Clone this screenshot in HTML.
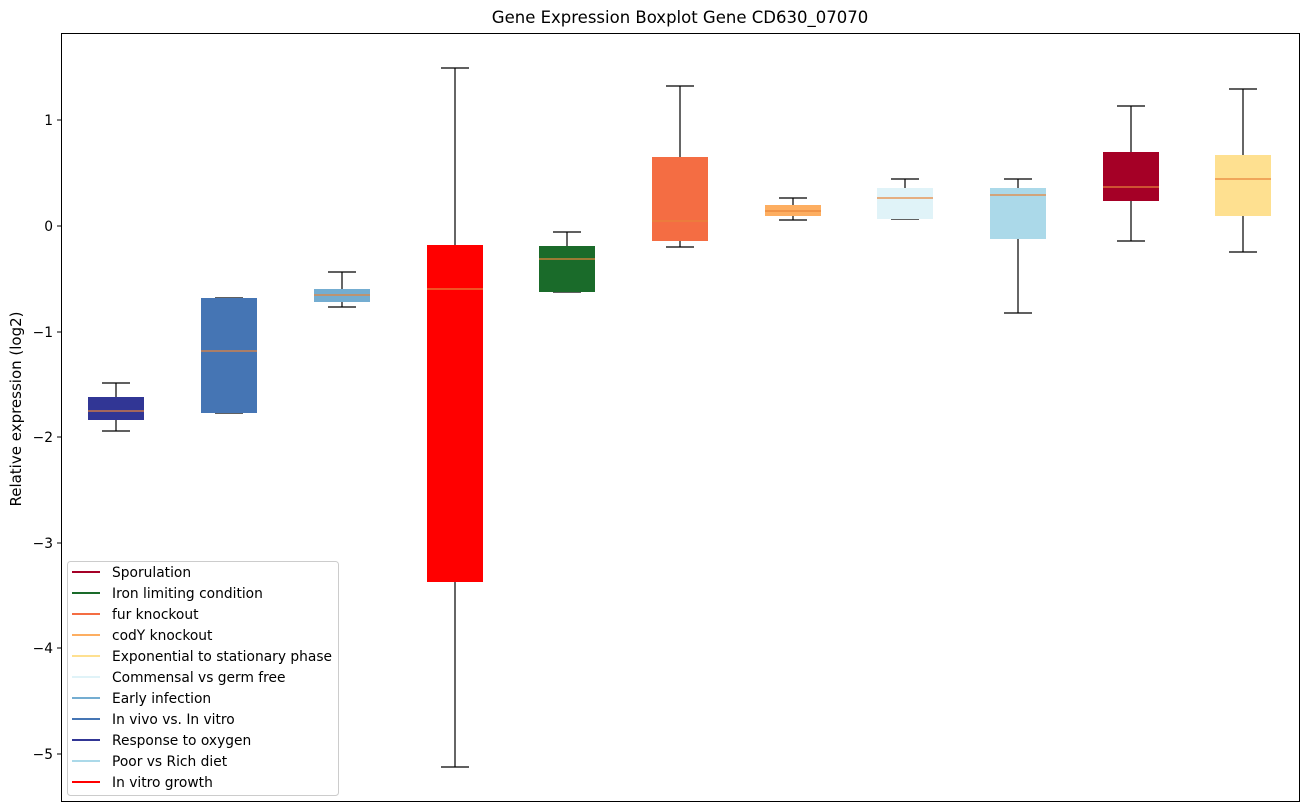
<!DOCTYPE html>
<html><head><meta charset="utf-8"><style>body{margin:0;background:#fff}svg{display:block;font-family:"DejaVu Sans","Liberation Sans",sans-serif}</style></head><body>
<svg width="1309" height="812" xmlns="http://www.w3.org/2000/svg">
<rect width="1309" height="812" fill="#fff"/>
<text x="680" y="23" font-size="16.5" text-anchor="middle">Gene Expression Boxplot Gene CD630_07070</text>
<text transform="translate(21,409) rotate(-90)" font-size="15" text-anchor="middle">Relative expression (log2)</text>
<g font-size="13.8" text-anchor="end">
<line x1="57" x2="61" y1="120" y2="120" stroke="#000"/><text x="53" y="125">1</text>
<line x1="57" x2="61" y1="226" y2="226" stroke="#000"/><text x="53" y="231">0</text>
<line x1="57" x2="61" y1="332" y2="332" stroke="#000"/><text x="53" y="337">−1</text>
<line x1="57" x2="61" y1="437" y2="437" stroke="#000"/><text x="53" y="442">−2</text>
<line x1="57" x2="61" y1="543" y2="543" stroke="#000"/><text x="53" y="548">−3</text>
<line x1="57" x2="61" y1="648" y2="648" stroke="#000"/><text x="53" y="653">−4</text>
<line x1="57" x2="61" y1="754" y2="754" stroke="#000"/><text x="53" y="759">−5</text>
</g>
<g stroke="#000" stroke-width="1.2">
<line x1="116" x2="116" y1="383" y2="397"/><line x1="116" x2="116" y1="420" y2="431"/><line x1="102" x2="130" y1="383" y2="383"/><line x1="102" x2="130" y1="431" y2="431"/>
<line x1="215" x2="243" y1="298" y2="298"/><line x1="215" x2="243" y1="413" y2="413"/>
<line x1="342" x2="342" y1="272" y2="289"/><line x1="342" x2="342" y1="302" y2="307"/><line x1="328" x2="356" y1="272" y2="272"/><line x1="328" x2="356" y1="307" y2="307"/>
<line x1="455" x2="455" y1="68" y2="245"/><line x1="455" x2="455" y1="582" y2="767"/><line x1="441" x2="469" y1="68" y2="68"/><line x1="441" x2="469" y1="767" y2="767"/>
<line x1="567" x2="567" y1="232" y2="246"/><line x1="553" x2="581" y1="232" y2="232"/><line x1="553" x2="581" y1="292" y2="292"/>
<line x1="680" x2="680" y1="86" y2="157"/><line x1="680" x2="680" y1="241" y2="247"/><line x1="666" x2="694" y1="86" y2="86"/><line x1="666" x2="694" y1="247" y2="247"/>
<line x1="793" x2="793" y1="198" y2="205"/><line x1="793" x2="793" y1="216" y2="220"/><line x1="779" x2="807" y1="198" y2="198"/><line x1="779" x2="807" y1="220" y2="220"/>
<line x1="905" x2="905" y1="179" y2="188"/><line x1="891" x2="919" y1="179" y2="179"/><line x1="891" x2="919" y1="219" y2="219"/>
<line x1="1018" x2="1018" y1="179" y2="188"/><line x1="1018" x2="1018" y1="239" y2="313"/><line x1="1004" x2="1032" y1="179" y2="179"/><line x1="1004" x2="1032" y1="313" y2="313"/>
<line x1="1131" x2="1131" y1="106" y2="152"/><line x1="1131" x2="1131" y1="201" y2="241"/><line x1="1117" x2="1145" y1="106" y2="106"/><line x1="1117" x2="1145" y1="241" y2="241"/>
<line x1="1243" x2="1243" y1="89" y2="155"/><line x1="1243" x2="1243" y1="216" y2="252"/><line x1="1229" x2="1257" y1="89" y2="89"/><line x1="1229" x2="1257" y1="252" y2="252"/>
</g>
<g>
<rect x="88" y="397" width="56" height="23" fill="#313695"/>
<rect x="201" y="298" width="56" height="115" fill="#4575b4"/>
<rect x="314" y="289" width="56" height="13" fill="#74add1"/>
<rect x="427" y="245" width="56" height="337" fill="#ff0000"/>
<rect x="539" y="246" width="56" height="46" fill="#1a6b2a"/>
<rect x="652" y="157" width="56" height="84" fill="#f46d43"/>
<rect x="765" y="205" width="56" height="11" fill="#fdae61"/>
<rect x="877" y="188" width="56" height="31" fill="#e0f3f8"/>
<rect x="990" y="188" width="56" height="51" fill="#abd9e9"/>
<rect x="1103" y="152" width="56" height="49" fill="#a50026"/>
<rect x="1215" y="155" width="56" height="61" fill="#fee090"/>
</g>
<g stroke="#e8843a" stroke-width="1.2">
<line x1="88" x2="144" y1="411" y2="411"/><line x1="201" x2="257" y1="351" y2="351"/><line x1="314" x2="370" y1="295" y2="295"/><line x1="427" x2="483" y1="289" y2="289"/><line x1="539" x2="595" y1="259" y2="259"/><line x1="652" x2="708" y1="221" y2="221"/><line x1="765" x2="821" y1="211" y2="211"/><line x1="877" x2="933" y1="198" y2="198"/><line x1="990" x2="1046" y1="195" y2="195"/><line x1="1103" x2="1159" y1="187" y2="187"/><line x1="1215" x2="1271" y1="179" y2="179"/>
</g>
<rect x="61.5" y="33.5" width="1238" height="768" fill="none" stroke="#000"/>
<rect x="67.5" y="561.5" width="271" height="234" rx="3" fill="#fff" fill-opacity="0.85" stroke="#ccc"/>
<g font-size="13.8" stroke-width="2">
<line x1="72" x2="100" y1="572" y2="572" stroke="#a50026"/><text x="112" y="577">Sporulation</text>
<line x1="72" x2="100" y1="593" y2="593" stroke="#1a6b2a"/><text x="112" y="598">Iron limiting condition</text>
<line x1="72" x2="100" y1="614" y2="614" stroke="#f46d43"/><text x="112" y="619">fur knockout</text>
<line x1="72" x2="100" y1="635" y2="635" stroke="#fdae61"/><text x="112" y="640">codY knockout</text>
<line x1="72" x2="100" y1="656" y2="656" stroke="#fee090"/><text x="112" y="661">Exponential to stationary phase</text>
<line x1="72" x2="100" y1="677" y2="677" stroke="#e0f3f8"/><text x="112" y="682">Commensal vs germ free</text>
<line x1="72" x2="100" y1="698" y2="698" stroke="#74add1"/><text x="112" y="703">Early infection</text>
<line x1="72" x2="100" y1="719" y2="719" stroke="#4575b4"/><text x="112" y="724">In vivo vs. In vitro</text>
<line x1="72" x2="100" y1="740" y2="740" stroke="#313695"/><text x="112" y="745">Response to oxygen</text>
<line x1="72" x2="100" y1="761" y2="761" stroke="#abd9e9"/><text x="112" y="766">Poor vs Rich diet</text>
<line x1="72" x2="100" y1="782" y2="782" stroke="#ff0000"/><text x="112" y="787">In vitro growth</text>
</g>
</svg>
</body></html>
